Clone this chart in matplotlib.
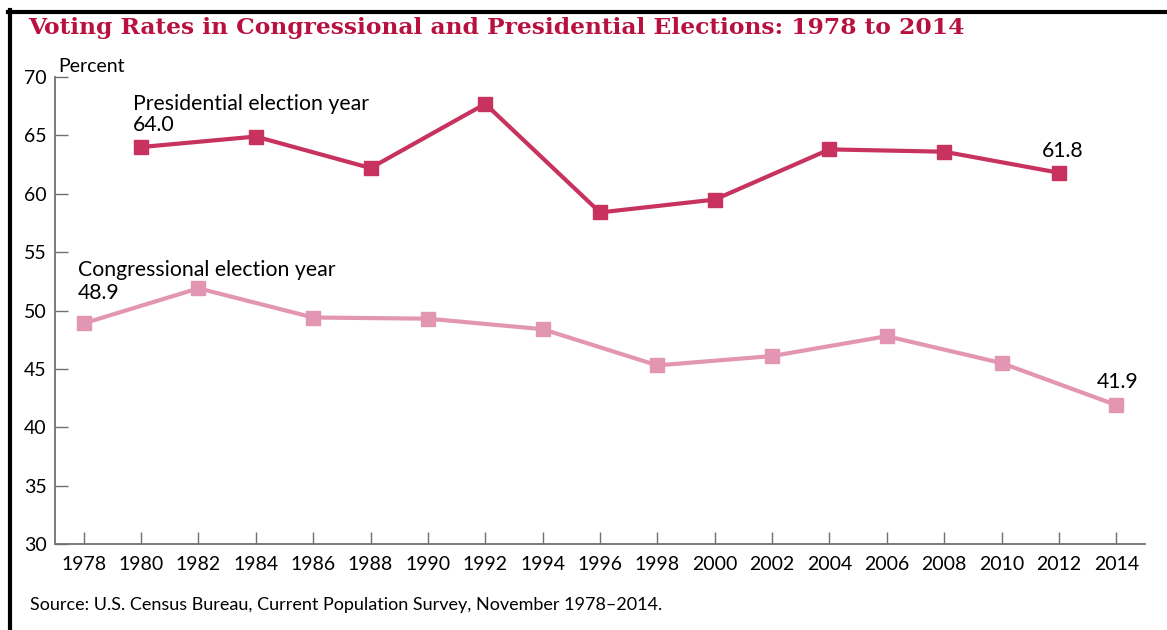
import matplotlib
matplotlib.use('Agg')
import matplotlib.pyplot as plt
from matplotlib.lines import Line2D

# data
pres_years = [1980, 1984, 1988, 1992, 1996, 2000, 2004, 2008, 2012]
pres_rates = [64.0, 64.9, 62.2, 67.7, 58.4, 59.5, 63.8, 63.6, 61.8]
cong_years = [1978, 1982, 1986, 1990, 1994, 1998, 2002, 2006, 2010, 2014]
cong_rates = [48.9, 51.9, 49.4, 49.3, 48.4, 45.3, 46.1, 47.8, 45.5, 41.9]
year_ticks = list(range(1978, 2015, 2))
pct_ticks = [30, 35, 40, 45, 50, 55, 60, 65, 70]

pres_col = '#c8325f'
cong_col = '#e396b1'
grey = '#707070'

plt.rcParams['font.family'] = ['Lato', 'DejaVu Sans']

fig = plt.figure(figsize=(11.67, 6.30), dpi=100)
ax = fig.add_axes([55/1167, 86/630, 1090/1167, 467/630])

ax.plot(pres_years, pres_rates, color=pres_col, lw=3, marker='s', ms=10, clip_on=False)
ax.plot(cong_years, cong_rates, color=cong_col, lw=3, marker='s', ms=10, clip_on=False)

ax.set_xlim(1977, 2015)
ax.set_ylim(30, 70)
ax.set_xticks(year_ticks)
ax.set_yticks(pct_ticks)
ax.tick_params(direction='in', length=9, width=1, color=grey, labelsize=14, pad=6)
ax.tick_params(axis='x', pad=9)
for s in ['top', 'right']:
    ax.spines[s].set_visible(False)
for s in ['left', 'bottom']:
    ax.spines[s].set_color(grey)
    ax.spines[s].set_linewidth(1.3)

# labels next to the series
fs = 15.3
ax.annotate('Presidential election year', (pres_years[0], pres_rates[0]),
            xytext=(-8, 37), textcoords='offset pixels', fontsize=fs, va='baseline')
ax.annotate('%.1f' % pres_rates[0], (pres_years[0], pres_rates[0]),
            xytext=(-8, 16), textcoords='offset pixels', fontsize=fs, va='baseline')
ax.annotate('%.1f' % pres_rates[-1], (pres_years[-1], pres_rates[-1]),
            xytext=(4, 16), textcoords='offset pixels', fontsize=fs, ha='center', va='baseline')
ax.annotate('Congressional election year', (cong_years[0], cong_rates[0]),
            xytext=(-6, 47), textcoords='offset pixels', fontsize=fs, va='baseline')
ax.annotate('%.1f' % cong_rates[0], (cong_years[0], cong_rates[0]),
            xytext=(-6, 24), textcoords='offset pixels', fontsize=fs, va='baseline')
ax.annotate('%.1f' % cong_rates[-1], (cong_years[-1], cong_rates[-1]),
            xytext=(1, 17), textcoords='offset pixels', fontsize=fs, ha='center', va='baseline')

fig.text(58/1167, 1 - 67/630, 'Percent', fontsize=14, va='center')
fig.text(28/1167, 1 - 28/630, 'Voting Rates in Congressional and Presidential Elections: 1978 to 2014',
         fontsize=16.8, fontweight='bold', color='#b8103f', va='center',
         family=['DejaVu Serif'])
fig.text(30/1167, 1 - 605/630, 'Source: U.S. Census Bureau, Current Population Survey, November 1978\u20132014.',
         fontsize=13, va='center')

# frame lines at top and left
fig.add_artist(Line2D([8/1167, 1], [1 - 11.5/630, 1 - 11.5/630], color='black', lw=3, transform=fig.transFigure))
fig.add_artist(Line2D([9.5/1167, 9.5/1167], [0, 1 - 10/630], color='black', lw=3, transform=fig.transFigure))

fig.savefig('out.png', dpi=100)
